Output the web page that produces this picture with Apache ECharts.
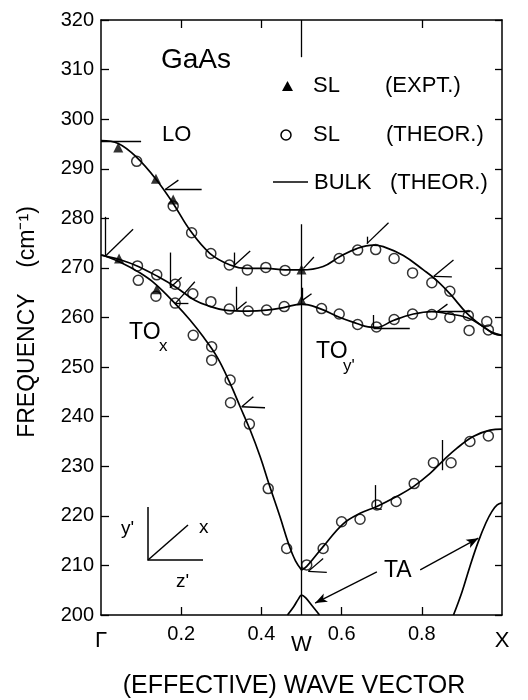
<!DOCTYPE html>
<html><head><meta charset="utf-8">
<script src="https://cdn.jsdelivr.net/npm/echarts@6/dist/echarts.min.js"></script>
<style>html,body{margin:0;padding:0;background:#fff}#c{width:528px;height:700px}</style>
</head><body><div id="c"></div>
<script>
const FONT = "'Liberation Sans', Arial, sans-serif";

// ---- axes ----
const yMin = 200, yMax = 320, yStep = 10;
const xLabelValues = [0, 0.2, 0.4, 0.5, 0.6, 0.8, 1];
const xTickBottom = [0.2, 0.4, 0.6, 0.8];
const xTickTop = [0.2, 0.4, 0.8];
const symmetryPoints = { '0': 'Γ', '0.5': 'W', '1': 'X' };

// ---- bulk (theor.) dispersion curves: [wave vector, frequency] ----
const bulkLO = [[0,295.7],[0.043,295.1],[0.089,292.3],[0.139,287.7],[0.18,283.0],[0.222,277.6],[0.272,272.9],[0.322,270.6],[0.363,269.9],[0.413,269.9],[0.459,269.6],[0.5,269.6],[0.554,270.3],[0.596,272.3],[0.638,273.9],[0.679,274.6],[0.704,274.3],[0.754,272.5],[0.804,269.6],[0.837,267.5],[0.87,264.8],[0.912,260.9],[0.95,258.3],[0.975,257.0],[1.0,256.4]];
const bulkTOupper = [[0,272.6],[0.01,272.4],[0.05,271.6],[0.093,270.3],[0.143,268.2],[0.185,266.2],[0.234,263.5],[0.27,262.3],[0.309,261.5],[0.367,261.3],[0.413,261.5],[0.455,262.0],[0.5,262.7],[0.546,261.8],[0.596,260.0],[0.638,258.8],[0.666,258.1],[0.687,258.0],[0.729,259.4],[0.779,260.7],[0.825,261.2],[0.862,260.8],[0.912,260.0],[0.953,258.2],[0.978,256.8],[1.0,256.4]];
const bulkTOx = [[0,272.6],[0.01,272.4],[0.052,271.0],[0.095,269.1],[0.135,266.8],[0.185,262.8],[0.222,259.5],[0.255,256.1],[0.289,252.1],[0.322,246.7],[0.347,242.0],[0.372,237.3],[0.397,231.9],[0.421,225.9],[0.446,219.9],[0.468,214.3],[0.485,210.9],[0.5,209.1]];
const bulkTOy = [[0.5,209.1],[0.513,209.8],[0.554,213.8],[0.604,218.4],[0.646,220.5],[0.688,221.9],[0.737,223.9],[0.779,225.9],[0.82,228.5],[0.854,231.2],[0.887,233.6],[0.928,236.0],[0.97,237.3],[1.0,237.5]];
const bulkTAw = [[0.465,200],[0.48,201.6],[0.492,203.2],[0.5,204.0],[0.51,203.5],[0.525,202.0],[0.545,200]];
const bulkTAx = [[0.879,200],[0.9,204.6],[0.92,209.8],[0.94,214.6],[0.96,218.6],[0.975,220.9],[0.988,222.2],[1.0,222.6]];

// ---- superlattice (theor.) points ----
const theorLO = [[0.089,291.5],[0.18,282.5],[0.226,277.1],[0.274,272.9],[0.32,270.6],[0.365,269.6],[0.411,270.1],[0.459,269.5],[0.594,271.9],[0.64,273.6],[0.685,273.7],[0.731,271.9],[0.777,269.0],[0.825,267.0],[0.87,265.3],[0.916,260.4],[0.962,259.2],[0.966,257.5]];
const theorTOupper = [[0.091,270.4],[0.139,268.6],[0.185,266.7],[0.229,264.8],[0.274,263.2],[0.32,261.7],[0.367,261.3],[0.413,261.5],[0.457,262.2],[0.55,261.8],[0.594,260.7],[0.64,258.6],[0.687,258.1],[0.731,259.6],[0.777,260.7],[0.825,260.6],[0.87,260.0],[0.918,257.4]];
const theorTOx = [[0.093,267.5],[0.137,264.3],[0.185,262.9],[0.23,256.4],[0.276,254.1],[0.276,251.4],[0.322,247.4],[0.323,242.8],[0.37,238.5],[0.417,225.5],[0.463,213.4],[0.513,210.1]];
const theorTOy = [[0.554,213.4],[0.6,218.8],[0.646,219.3],[0.688,222.2],[0.736,222.9],[0.781,226.5],[0.829,230.7],[0.873,230.7],[0.92,235.0],[0.966,236.1]];

// ---- superlattice (expt.) points ----
const exptSL = [[0.043,294.3],[0.137,288.0],[0.18,283.8],[0.045,271.9],[0.139,265.7],[0.5,269.7],[0.5,263.5]];

// ---- zone-folding angle marks: [vertexX, vertexY, armAx, armAy, armBx, armBy] ----
const foldMarks = [
  [0,295.6, 0.1,295.6],
  [0.16,285.8, 0.193,287.7, 0.251,285.8],
  [0.01,272.3, 0.01,280.3, 0.08,277.8],
  [0.172,266.0, 0.172,273.1, 0.201,268.1],
  [0.185,262.8, 0.234,267.2, 0.218,262.8],
  [0.332,270.5, 0.332,273.1, 0.372,273.4],
  [0.338,261.5, 0.338,266.2, 0.363,263.2],
  [0.505,269.9, 0.531,272.2],
  [0.503,263.5, 0.525,264.8, 0.503,266.0],
  [0.663,274.9, 0.717,279.1, 0.663,276.3],
  [0.83,268.3, 0.879,271.6, 0.875,268.2],
  [0.839,261.2, 0.864,262.7, 0.92,261.2],
  [0.68,257.8, 0.68,260.5, 0.77,257.8],
  [0.351,242.0, 0.38,244.0, 0.409,241.8],
  [0.517,208.8, 0.554,211.4, 0.563,208.6],
  [0.683,221.5, 0.683,226.2, 0.7,221.3],
  [0.85,229.2, 0.85,235.3]
];
// W symmetry line segments
const wLine = [[[0.5,320],[0.5,312.5]], [[0.5,278.8],[0.5,200]]];
// TA label arrows [tail, head]
const taArrows = [[[0.688,208.7],[0.534,202.4]], [[0.796,209.1],[0.941,215.5]]];

// ---- build markLine data ----
const mlData = [];
foldMarks.forEach(m => {
  mlData.push([{coord:[m[0],m[1]]},{coord:[m[2],m[3]]}]);
  if (m.length > 4) mlData.push([{coord:[m[0],m[1]]},{coord:[m[4],m[5]]}]);
});
wLine.forEach(s => mlData.push([{coord:s[0]},{coord:s[1]}]));
taArrows.forEach(s => mlData.push([{coord:s[0], symbol:'none'},{coord:s[1], symbol:'arrow', symbolSize:[7,12]}]));

const black = '#000';
const lineSeries = (data) => ({
  type:'line', data, smooth:0.4, symbol:'none', silent:true,
  lineStyle:{color:black, width:1.7}, z:2
});

const chart = echarts.init(document.getElementById('c'), null, {renderer:'canvas'});
const txt = (text, x, y, size, extra) => Object.assign({
  type:'text', x, y, silent:true,
  style:{text, fontSize:size, fontFamily:FONT, fill:black, align:'left', verticalAlign:'middle'}
}, extra || {});

chart.setOption({
  animation:false,
  backgroundColor:'#fff',
  grid:{left:101, right:26, top:20, bottom:85, outerBoundsMode:'none'},
  xAxis:[{
    type:'value', min:0, max:1, position:'bottom',
    axisLine:{show:true, onZero:false, lineStyle:{color:black, width:1.5}},
    axisTick:{show:true, inside:true, length:8, customValues:xTickBottom, lineStyle:{color:black, width:1.3}},
    splitLine:{show:false},
    axisLabel:{
      customValues:xLabelValues, margin:9, color:black, fontSize:20, fontFamily:FONT,
      showMinLabel:true, showMaxLabel:true,
      formatter:(v) => {
        const k = String(+(+v).toFixed(2));
        if (symmetryPoints[k]) return (k === '0.5' ? '{w|' : '{s|') + symmetryPoints[k] + '}';
        return (+v).toFixed(1);
      },
      rich:{
        s:{fontSize:22, fontFamily:FONT, color:black, padding:[6,0,0,0]},
        w:{fontSize:22, fontFamily:FONT, color:black, padding:[10,0,0,0]}
      }
    }
  },{
    type:'value', min:0, max:1, position:'top',
    axisLine:{show:true, onZero:false, lineStyle:{color:black, width:1.5}},
    axisTick:{show:true, inside:true, length:8, customValues:xTickTop, lineStyle:{color:black, width:1.3}},
    axisLabel:{show:false}, splitLine:{show:false}
  }],
  yAxis:[{
    type:'value', min:yMin, max:yMax, interval:yStep, position:'left',
    axisLine:{show:true, onZero:false, lineStyle:{color:black, width:1.5}},
    axisTick:{show:true, inside:true, length:8, lineStyle:{color:black, width:1.3}},
    splitLine:{show:false},
    axisLabel:{margin:7, color:black, fontSize:20, fontFamily:FONT}
  },{
    type:'value', min:yMin, max:yMax, interval:yStep, position:'right',
    axisLine:{show:true, onZero:false, lineStyle:{color:black, width:1.5}},
    axisTick:{show:true, inside:true, length:7, lineStyle:{color:black, width:1.3}},
    splitLine:{show:false}, axisLabel:{show:false}
  }],
  series:[
    lineSeries(bulkLO),
    lineSeries(bulkTOupper),
    lineSeries(bulkTOx),
    lineSeries(bulkTOy),
    lineSeries(bulkTAw),
    lineSeries(bulkTAx),
    {
      type:'scatter', name:'SL (THEOR.)',
      data: theorLO.concat(theorTOupper, theorTOx, theorTOy),
      symbol:'circle', symbolSize:10, silent:true,
      itemStyle:{color:'rgba(255,255,255,0)', borderColor:black, borderWidth:1.5}, z:3
    },
    {
      type:'scatter', name:'SL (EXPT.)', data: exptSL,
      symbol:'triangle', symbolSize:10, silent:true,
      itemStyle:{color:black}, z:4
    },
    {
      type:'line', data:[[0.5,250]], symbol:'none', silent:true,
      lineStyle:{width:0, opacity:0},
      markLine:{
        silent:true, symbol:['none','none'], animation:false,
        label:{show:false},
        lineStyle:{color:black, width:1.3, type:'solid'},
        emphasis:{disabled:true},
        data: mlData
      }, z:2
    }
  ],
  graphic:[
    txt('GaAs', 161, 60, 28),
    // legend
    {type:'polygon', silent:true, shape:{points:[[282,91],[293,91],[287.5,81]]}, style:{fill:black}},
    txt('SL', 313, 86, 22), txt('(EXPT.)', 385, 86, 22),
    {type:'circle', silent:true, shape:{cx:286, cy:135, r:5}, style:{fill:'none', stroke:black, lineWidth:1.5}},
    txt('SL', 313, 135, 22), txt('(THEOR.)', 386, 135, 22),
    {type:'line', silent:true, shape:{x1:273, y1:182, x2:308, y2:182}, style:{stroke:black, lineWidth:1.5}},
    txt('BULK', 314, 183, 22), txt('(THEOR.)', 390, 183, 22),
    // branch labels
    txt('LO', 162, 135, 22),
    txt('TO', 129, 333, 23), txt('x', 159, 346, 17),
    txt('TO', 316, 352, 23), txt("y'", 343, 366, 17),
    txt('TA', 384, 571, 23),
    // inset axes
    {type:'polyline', silent:true, shape:{points:[[148,507],[148,560],[203,560]]}, style:{stroke:black, lineWidth:1.5, fill:'none'}},
    {type:'line', silent:true, shape:{x1:148, y1:560, x2:188, y2:525}, style:{stroke:black, lineWidth:1.5}},
    txt("y'", 121, 529, 19), txt('x', 199, 528, 19), txt("z'", 176, 582, 19),
    // axis titles
    {type:'text', x:294, y:686, silent:true,
     style:{text:'(EFFECTIVE) WAVE VECTOR', fontSize:25, fontFamily:FONT, fill:black, align:'center', verticalAlign:'middle'}},
    {type:'text', x:28, y:322, rotation:Math.PI/2, silent:true,
     style:{text:'FREQUENCY    (cm⁻¹)', fontSize:23, fontFamily:FONT, fill:black, align:'center', verticalAlign:'middle'}}
  ]
});
</script>
</body></html>
